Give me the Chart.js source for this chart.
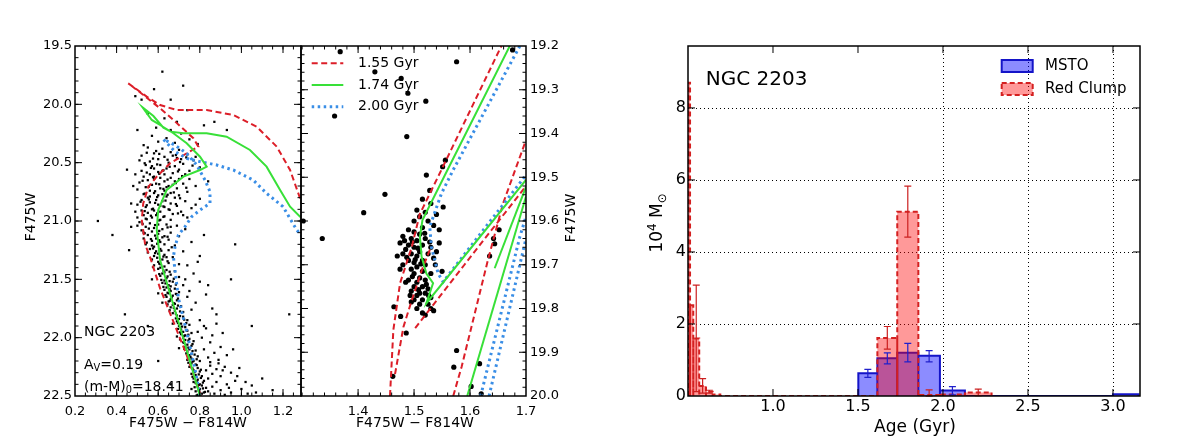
<!DOCTYPE html>
<html>
<head>
<meta charset="utf-8">
<script src="https://cdn.jsdelivr.net/npm/chart.js@4.4.0/dist/chart.umd.min.js"></script>
<style>
  html, body { margin: 0; padding: 0; background: #fff; }
  #wrap { position: relative; width: 1200px; height: 440px; overflow: hidden; }
  canvas { position: absolute; top: 0; }
</style>
</head>
<body>
<div id="wrap">
  <canvas id="cmd" width="320" height="440" style="left:0"></canvas>
  <canvas id="zoom" width="310" height="440" style="left:290px"></canvas>
  <canvas id="hist" width="580" height="440" style="left:620px"></canvas>
</div>
<script>
const FONT = "'DejaVu Sans', sans-serif";
Chart.defaults.font.family = FONT;
Chart.defaults.color = "#000";

// ---- tick labels ----
const cmdColorTicks = [0.2, 0.4, 0.6, 0.8, 1.0, 1.2];
const cmdMagTicks = [19.5, 20.0, 20.5, 21.0, 21.5, 22.0, 22.5];
const zoomColorTicks = [1.4, 1.5, 1.6, 1.7];
const zoomMagTicks = [19.2, 19.3, 19.4, 19.5, 19.6, 19.7, 19.8, 19.9, 20.0];
const ageTicks = [1.0, 1.5, 2.0, 2.5, 3.0];
const massTicks = [0, 2, 4, 6, 8];
const ageGrid = [2.0, 2.5, 3.0];

// ---- CMD stars (F475W-F814W, F475W) ----
const cmdStars = [
  [0.62,19.72],[0.58,19.87],[0.72,19.84],[0.49,19.93],[0.66,19.96],[0.74,20.05],[0.55,20.08],[0.63,20.12],[0.69,20.15],[0.82,20.18],
  [0.59,20.2],[0.66,20.22],[0.71,20.25],[0.57,20.27],[0.64,20.29],[0.75,20.3],[0.6,20.32],[0.68,20.33],[0.53,20.35],[0.93,20.22],
  [0.79,20.34],[0.87,20.15],[0.52,19.96],
  [0.55,20.37],[0.62,20.38],[0.7,20.39],[0.66,20.41],[0.58,20.42],[0.74,20.43],[0.52,20.44],[0.63,20.45],[0.69,20.46],[0.6,20.47],
  [0.77,20.48],[0.56,20.49],[0.65,20.5],[0.72,20.51],[0.54,20.52],[0.61,20.52],[0.68,20.53],[0.8,20.54],[0.58,20.55],[0.64,20.55],
  [0.7,20.56],[0.75,20.57],[0.52,20.57],[0.6,20.58],[0.67,20.59],[0.56,20.6],[0.63,20.6],[0.73,20.6],[0.78,20.45],[0.51,20.48],
  [0.59,20.4],[0.67,20.44],[0.71,20.47],[0.57,20.53],[0.62,20.57],
  [0.53,20.62],[0.58,20.62],[0.61,20.63],[0.66,20.63],[0.7,20.64],[0.75,20.64],[0.55,20.65],[0.63,20.66],[0.68,20.66],[0.51,20.67],
  [0.59,20.68],[0.72,20.68],[0.57,20.69],[0.65,20.7],[0.78,20.7],[0.54,20.71],[0.61,20.72],[0.69,20.72],[0.5,20.73],[0.56,20.74],
  [0.63,20.74],[0.74,20.75],[0.58,20.76],[0.66,20.76],[0.53,20.77],[0.6,20.78],[0.7,20.78],[0.64,20.79],[0.55,20.8],[0.68,20.8],
  [0.8,20.81],[0.52,20.82],[0.59,20.82],[0.62,20.83],[0.73,20.83],[0.56,20.84],[0.66,20.85],[0.5,20.86],[0.6,20.86],[0.69,20.87],
  [0.54,20.88],[0.63,20.88],[0.76,20.89],[0.57,20.9],[0.65,20.9],[0.52,20.91],[0.61,20.92],[0.71,20.92],[0.55,20.93],[0.67,20.94],
  [0.59,20.95],[0.63,20.96],[0.5,20.97],[0.57,20.97],[0.74,20.97],[0.54,20.98],[0.61,20.99],[0.66,20.99],[0.58,20.64],[0.64,20.71],
  [0.56,20.79],[0.61,20.87],[0.53,20.95],[0.67,20.69],[0.62,20.77],[0.58,20.91],[0.72,20.95],[0.84,20.66],[0.47,20.85],[0.49,20.92],
  [0.51,21.01],[0.56,21.02],[0.6,21.03],[0.64,21.03],[0.69,21.04],[0.54,21.05],[0.58,21.06],[0.62,21.07],[0.73,21.07],[0.52,21.08],
  [0.57,21.09],[0.66,21.1],[0.6,21.11],[0.55,21.12],[0.63,21.13],[0.7,21.13],[0.53,21.15],[0.59,21.15],[0.65,21.16],[0.57,21.17],
  [0.61,21.18],[0.76,21.18],[0.54,21.2],[0.63,21.2],[0.68,21.21],[0.58,21.22],[0.56,21.24],[0.61,21.24],[0.65,21.25],[0.72,21.26],
  [0.55,21.27],[0.6,21.28],[0.63,21.29],[0.58,21.3],[0.67,21.31],[0.57,21.33],[0.62,21.33],[0.6,21.35],[0.65,21.36],[0.7,21.37],
  [0.58,21.38],[0.63,21.39],[0.61,21.4],[0.5,21.04],[0.62,21.14],[0.57,21.21],[0.59,21.26],[0.64,21.31],[0.66,21.05],[0.53,21.1],
  [0.61,21.37],[0.8,21.3],[0.74,21.38],
  [0.545,20.415],[0.605,20.425],[0.685,20.435],[0.735,20.455],[0.575,20.465],[0.645,20.475],[0.705,20.495],[0.535,20.505],[0.595,20.515],
  [0.655,20.535],[0.765,20.525],[0.565,20.545],[0.625,20.565],[0.695,20.575],[0.545,20.585],[0.605,20.595],[0.715,20.615],[0.575,20.625],
  [0.645,20.645],[0.525,20.655],[0.685,20.675],[0.605,20.685],[0.555,20.705],[0.735,20.715],[0.625,20.725],[0.585,20.745],[0.675,20.755],
  [0.535,20.765],[0.645,20.775],[0.595,20.795],[0.705,20.805],[0.555,20.815],[0.635,20.825],[0.515,20.835],[0.585,20.845],[0.685,20.855],
  [0.545,20.865],[0.625,20.875],[0.575,20.895],[0.655,20.905],[0.535,20.915],[0.595,20.935],[0.695,20.935],[0.565,20.955],[0.625,20.965],
  [0.545,20.985],[0.605,20.995],[0.525,21.025],[0.585,21.035],[0.645,21.055],[0.555,21.065],[0.605,21.085],[0.535,21.105],[0.585,21.125],
  [0.645,21.135],[0.565,21.155],[0.605,21.165],[0.545,21.185],[0.595,21.195],[0.665,21.225],[0.575,21.235],[0.615,21.255],[0.585,21.275],
  [0.625,21.305],[0.595,21.315],[0.645,21.345],[0.605,21.365],[0.575,21.395],
  [0.6,21.41],[0.64,21.42],[0.68,21.43],[0.62,21.45],[0.66,21.46],[0.61,21.47],[0.7,21.48],[0.64,21.49],[0.63,21.51],[0.67,21.52],
  [0.62,21.53],[0.65,21.55],[0.72,21.55],[0.64,21.57],[0.68,21.58],[0.63,21.59],[0.66,21.6],[0.7,21.61],[0.65,21.62],[0.67,21.64],
  [0.64,21.65],[0.74,21.65],[0.66,21.67],[0.69,21.68],[0.65,21.69],[0.68,21.71],[0.67,21.72],[0.71,21.73],[0.66,21.74],[0.69,21.75],
  [0.68,21.77],[0.72,21.78],[0.67,21.79],[0.77,21.45],[0.8,21.52],[0.75,21.6],[0.83,21.63],[0.78,21.7],[0.86,21.75],[0.57,21.5],
  [0.6,21.62],[0.62,21.7],[0.73,21.5],[0.76,21.76],[0.63,21.44],[0.66,21.56],[0.69,21.63],
  [0.625,21.425],[0.655,21.435],[0.605,21.455],[0.645,21.475],[0.675,21.495],[0.615,21.505],[0.655,21.515],[0.635,21.535],[0.685,21.545],
  [0.625,21.565],[0.655,21.585],[0.645,21.615],[0.685,21.625],[0.635,21.635],[0.665,21.655],[0.695,21.665],[0.655,21.685],[0.675,21.705],
  [0.645,21.715],[0.695,21.725],[0.675,21.745],[0.655,21.765],[0.705,21.775],[0.685,21.795],
  [0.69,21.81],[0.72,21.82],[0.7,21.84],[0.74,21.85],[0.69,21.86],[0.71,21.88],[0.75,21.89],[0.7,21.9],[0.73,21.91],[0.71,21.93],
  [0.74,21.94],[0.72,21.95],[0.76,21.96],[0.71,21.97],[0.73,21.98],[0.72,22.0],[0.75,22.01],[0.73,22.02],[0.77,22.03],[0.72,22.04],
  [0.74,22.06],[0.76,22.07],[0.73,22.08],[0.75,22.1],[0.78,22.11],[0.74,22.12],[0.76,22.14],[0.75,22.15],[0.79,22.16],[0.76,22.18],
  [0.74,22.19],[0.77,22.2],[0.8,21.85],[0.83,21.92],[0.88,21.88],[0.81,22.0],[0.85,22.04],[0.9,22.08],[0.82,22.1],[0.87,22.13],
  [0.93,22.15],[0.84,22.17],[0.89,22.19],[0.8,22.2],[0.67,21.88],[0.69,21.99],[0.7,22.09],[0.79,21.95],[0.86,21.98],
  [0.705,21.815],[0.685,21.835],[0.725,21.845],[0.695,21.875],[0.735,21.875],[0.715,21.905],[0.695,21.925],[0.735,21.935],[0.705,21.955],
  [0.745,21.975],[0.725,21.985],[0.705,22.015],[0.745,22.025],[0.725,22.045],[0.765,22.055],[0.745,22.085],[0.725,22.095],[0.765,22.115],
  [0.735,22.135],[0.775,22.145],[0.755,22.165],[0.785,22.185],[0.765,22.205],
  [0.76,22.22],[0.78,22.23],[0.75,22.25],[0.79,22.26],[0.77,22.28],[0.8,22.29],[0.76,22.31],[0.78,22.32],[0.81,22.33],[0.77,22.35],
  [0.79,22.36],[0.82,22.37],[0.78,22.39],[0.8,22.4],[0.79,22.42],[0.83,22.43],[0.8,22.44],[0.78,22.46],[0.82,22.47],[0.81,22.48],
  [0.79,22.49],[0.84,22.46],[0.85,22.24],[0.88,22.27],[0.92,22.25],[0.86,22.31],[0.9,22.33],[0.95,22.3],[0.84,22.35],[0.88,22.38],
  [0.93,22.4],[0.97,22.37],[0.86,22.42],[0.9,22.45],[0.95,22.47],[1.0,22.44],[0.87,22.48],[0.92,22.49],[1.03,22.48],[0.83,22.28],
  [0.89,22.22],[0.81,22.41],[0.99,22.26],[1.05,22.41],[0.76,22.44],[0.77,22.38],
  [0.745,22.215],[0.785,22.235],[0.765,22.265],[0.805,22.275],[0.775,22.295],[0.795,22.315],[0.765,22.335],[0.805,22.345],[0.785,22.375],
  [0.815,22.385],[0.795,22.405],[0.775,22.425],[0.815,22.435],[0.795,22.455],[0.825,22.465],[0.805,22.485],[0.785,22.495],
  [0.82,21.9],[0.91,21.96],[0.96,22.1],[0.85,22.21],[0.91,22.28],[0.94,22.43],[0.98,22.33],[1.02,22.38],[1.07,22.47],[0.88,21.8],
  [0.84,21.55],[0.79,21.35],[0.82,21.12],[0.48,20.7],[0.47,21.05],[0.46,21.25],[0.49,20.6],
  [0.31,21.0],[0.44,21.8],[0.38,21.12],[0.45,20.56],[0.5,20.22],[0.78,20.86],[0.95,21.5],[1.05,21.9],[1.1,22.35],[0.97,21.2],
  [0.55,21.9],[0.6,22.2],[0.66,22.4],[1.15,22.45],[1.23,21.8],[1.285,21.0]
];

// ---- red clump stars (zoomed panel) ----
const clumpStars = [
  [1.368,19.213],[1.576,19.236],[1.43,19.259],[1.477,19.274],[1.489,19.308],[1.521,19.326],[1.358,19.36],[1.487,19.407],
  [1.556,19.461],[1.522,19.495],[1.448,19.539],[1.41,19.581],[1.336,19.64],[1.302,19.60],[1.552,19.568],[1.528,19.53],
  [1.551,19.476],[1.642,19.64],[1.644,19.652],[1.635,19.68],[1.652,19.62],[1.576,19.896],[1.571,19.934],[1.617,19.926],
  [1.602,19.978],[1.62,19.995],[1.462,19.955],[1.486,19.856],[1.476,19.818],[1.464,19.796],[1.676,19.209],
  [1.515,19.55],[1.53,19.56],[1.505,19.575],[1.52,19.58],[1.54,19.585],[1.51,19.59],[1.5,19.6],[1.525,19.6],[1.535,19.61],
  [1.515,19.615],[1.49,19.62],[1.545,19.62],
  [1.5,19.625],[1.51,19.63],[1.48,19.635],[1.495,19.64],[1.52,19.64],[1.505,19.645],[1.475,19.65],[1.49,19.655],[1.515,19.655],
  [1.53,19.66],[1.5,19.66],[1.485,19.665],[1.51,19.67],[1.48,19.675],[1.495,19.675],[1.525,19.675],[1.505,19.68],[1.47,19.68],
  [1.515,19.69],[1.49,19.69],[1.535,19.685],[1.5,19.695],[1.48,19.7],[1.52,19.7],[1.545,19.65],[1.54,19.67],
  [1.505,19.705],[1.495,19.71],[1.515,19.715],[1.53,19.72],[1.5,19.72],[1.51,19.73],[1.49,19.735],[1.52,19.735],[1.505,19.74],
  [1.5,19.75],[1.515,19.75],[1.525,19.755],[1.495,19.76],[1.51,19.765],[1.52,19.765],[1.505,19.77],[1.53,19.775],[1.5,19.78],
  [1.515,19.78],[1.485,19.74],[1.55,19.715],[1.475,19.71],
  [1.495,19.785],[1.51,19.79],[1.525,19.79],[1.53,19.8],[1.505,19.8],[1.515,19.81],[1.535,19.805],[1.52,19.815],
  [1.497,19.648],[1.507,19.662],[1.487,19.683],[1.512,19.698],[1.497,19.727],[1.508,19.757],[1.522,19.745],[1.502,19.688],
  [1.519,19.628],[1.528,19.648],[1.483,19.645],[1.538,19.7],[1.493,19.77],[1.526,19.77]
];

// ---- isochrones, full CMD ----
const iso155Cmd = [[0.805,22.5],[0.793,22.434],[0.737,22.149],[0.673,21.863],[0.609,21.577],[0.561,21.31],[0.537,21.2],
  [0.521,20.99],[0.528,20.85],[0.553,20.706],[0.593,20.62],[0.657,20.505],[0.737,20.42],[0.793,20.363],[0.769,20.29],
  [0.673,20.134],[0.609,20.034],[0.529,19.92],[0.456,19.82],[0.545,19.934],[0.609,20.006],[0.689,20.049],[0.833,20.049],
  [0.961,20.091],[1.073,20.191],[1.17,20.363],[1.234,20.563],[1.282,20.806],[1.30,20.88]];
const iso174Cmd = [[0.801,22.5],[0.705,21.91],[0.609,21.334],[0.593,21.077],[0.6,20.906],[0.641,20.734],[0.721,20.62],
  [0.801,20.563],[0.833,20.534],[0.801,20.449],[0.737,20.334],[0.673,20.248],[0.609,20.177],[0.569,20.134],[0.525,20.026],
  [0.577,20.10],[0.625,20.2],[0.66,20.234],[0.721,20.248],[0.833,20.248],[0.929,20.277],[1.041,20.391],[1.121,20.534],
  [1.186,20.734],[1.234,20.877],[1.282,20.963],[1.30,20.98]];
const iso200Cmd = [[0.801,22.5],[0.777,22.27],[0.737,21.95],[0.697,21.66],[0.673,21.306],[0.681,21.22],[0.697,21.12],
  [0.729,21.049],[0.761,20.963],[0.801,20.906],[0.849,20.848],[0.849,20.749],[0.825,20.649],[0.785,20.52],[0.737,20.42],
  [0.681,20.35],[0.625,20.3],[0.681,20.406],[0.737,20.463],[0.801,20.491],[0.881,20.52],[0.961,20.563],[1.057,20.649],
  [1.121,20.763],[1.2,20.877],[1.266,21.077],[1.30,21.15]];

// ---- isochrones, red clump zoom (separate pieces) ----
const iso155Zoom = [
  [[1.457,20.0],[1.463,19.849],[1.475,19.742],[1.496,19.659],[1.51,19.585],[1.555,19.467],[1.656,19.2]],
  [[1.466,19.95],[1.481,19.842],[1.496,19.781],[1.514,19.712],[1.53,19.66]],
  [[1.502,19.845],[1.59,19.70],[1.70,19.52]],
  [[1.57,20.0],[1.585,19.933],[1.632,19.689],[1.659,19.56],[1.70,19.415]]
];
const iso174Zoom = [
  [[1.671,19.2],[1.561,19.48],[1.515,19.598],[1.5105,19.636],[1.5135,19.682],[1.522,19.72],[1.534,19.742],[1.522,19.788],[1.70,19.506]],
  [[1.644,19.708],[1.70,19.522]],
  [[1.595,20.0],[1.70,19.544]]
];
const iso200Zoom = [
  [[1.689,19.2],[1.570,19.483],[1.549,19.537],[1.528,19.613],[1.531,19.659],[1.543,19.72],[1.552,19.739],[1.70,19.495]],
  [[1.619,20.0],[1.689,19.636],[1.70,19.59]],
  [[1.634,20.0],[1.70,19.64]]
];

// ---- age histogram (Gyr, 10^4 Msun) ----
const mstoLeft  = [1.502, 1.614, 1.731, 1.855, 1.982, 3.00];
const mstoRight = [1.614, 1.731, 1.855, 1.982, 2.129, 3.15];
const mstoMass  = [0.63, 1.05, 1.20, 1.12, 0.15, 0.05];
const mstoErrLo = [0.52, 0.89, 0.95, 0.95, 0.03, null];
const mstoErrHi = [0.74, 1.20, 1.46, 1.26, 0.26, null];

const rcLeft  = [0.500, 0.512, 0.531, 0.566, 0.606, 0.645, 1.614, 1.731, 1.855, 1.982, 2.129];
const rcRight = [0.512, 0.531, 0.566, 0.606, 0.645, 0.690, 1.731, 1.855, 1.982, 2.129, 2.286];
const rcMass  = [8.70, 2.52, 1.60, 0.28, 0.12, 0.04, 1.61, 5.12, 0.03, 0.04, 0.10];
const rcErrLo = [null, null, 0.12, 0.08, 0.08, null, 1.30, 4.41, 0.00, null, 0.01];
const rcErrHi = [null, null, 3.08, 0.48, 0.16, null, 1.93, 5.83, 0.17, null, 0.19];

// ---- helpers ----
const pts = arr => arr.map(([x, y]) => ({ x, y }));
function steps(a, b, d) {
  const out = [];
  for (let v = a; v <= b + 1e-9; v += d) out.push(+v.toFixed(4));
  return out;
}
function outline(lefts, rights, heights) {
  const out = [];
  lefts.forEach((l, i) => {
    out.push({ x: l, y: 0 }, { x: l, y: heights[i] }, { x: rights[i], y: heights[i] }, { x: rights[i], y: 0 });
  });
  return out;
}

const RED = { borderColor: "#dc1e28", borderWidth: 2, borderDash: [6, 3.5] };
const GREEN = { borderColor: "#38e038", borderWidth: 2, borderDash: [] };
const BLUE = { borderColor: "#3a8ee6", borderWidth: 3, borderDash: [2.5, 3.5] };

function lineSet(label, arr, style, order) {
  return Object.assign({ label, data: pts(arr), pointRadius: 0, fill: false, tension: 0, order }, style);
}
function starSet(arr, style, radius) {
  return { label: "stars", data: pts(arr), showLine: false, pointStyle: style, pointRadius: radius,
    pointBorderWidth: 0, pointBackgroundColor: "#000", borderColor: "#000", order: 10 };
}

function xAxis(min, max, ticks, pad, size) {
  return {
    type: "linear", min, max,
    grid: { display: false, drawTicks: false },
    border: { display: false },
    afterBuildTicks: s => { s.ticks = ticks.map(v => ({ value: v })); },
    afterFit: s => { s.height = 44; },
    ticks: { padding: pad, font: { size }, color: "#000", maxRotation: 0, autoSkip: false,
      callback: v => v.toFixed(1) }
  };
}
function yAxis(min, max, ticks, pad, size, width, position, reverse, digits) {
  return {
    type: "linear", min, max, position, reverse,
    grid: { display: false, drawTicks: false },
    border: { display: false },
    afterBuildTicks: s => { s.ticks = ticks.map(v => ({ value: v })); },
    afterFit: s => { s.width = width; },
    ticks: { padding: pad, font: { size }, color: "#000", autoSkip: false,
      callback: v => v.toFixed(digits) }
  };
}

function drawRich(ctx, parts, x, y, size, align, rot) {
  ctx.save();
  ctx.translate(x, y);
  ctx.rotate(rot || 0);
  ctx.textBaseline = "middle";
  ctx.textAlign = "left";
  ctx.fillStyle = "#000";
  const fontOf = k => (k ? size * 0.7 : size) + "px " + FONT;
  let w = 0;
  parts.forEach(([t, k]) => { ctx.font = fontOf(k); w += ctx.measureText(t).width; });
  let cx = align === "center" ? -w / 2 : align === "right" ? -w : 0;
  parts.forEach(([t, k]) => {
    ctx.font = fontOf(k);
    const dy = k === "sub" ? size * 0.28 : k === "sup" ? -size * 0.32 : 0;
    ctx.fillText(t, cx, dy);
    cx += ctx.measureText(t).width;
  });
  ctx.restore();
}

// frame, inward ticks and dotted grid, matplotlib style
const framePlugin = {
  id: "frame",
  beforeDatasetsDraw(chart, args, o) {
    if (!o.gridX && !o.gridY) return;
    const { ctx, chartArea: a, scales: { x, y } } = chart;
    ctx.save();
    ctx.strokeStyle = "#000";
    ctx.lineWidth = 1;
    ctx.setLineDash([1, 3]);
    ctx.beginPath();
    (o.gridX || []).forEach(v => {
      const p = Math.round(x.getPixelForValue(v)) + 0.5;
      ctx.moveTo(p, a.top); ctx.lineTo(p, a.bottom);
    });
    (o.gridY || []).forEach(v => {
      const p = Math.round(y.getPixelForValue(v)) + 0.5;
      ctx.moveTo(a.left, p); ctx.lineTo(a.right, p);
    });
    ctx.stroke();
    ctx.restore();
  },
  afterDatasetsDraw(chart, args, o) {
    const { ctx, chartArea: a, scales: { x, y } } = chart;
    ctx.save();
    ctx.strokeStyle = "#000";
    ctx.lineWidth = 1;
    ctx.beginPath();
    const marks = (vals, len, horiz) => (vals || []).forEach(v => {
      if (horiz) {
        const p = x.getPixelForValue(v);
        if (p < a.left + 1 || p > a.right - 1) return;
        ctx.moveTo(p, a.bottom); ctx.lineTo(p, a.bottom - len);
        ctx.moveTo(p, a.top); ctx.lineTo(p, a.top + len);
      } else {
        const p = y.getPixelForValue(v);
        if (p < a.top + 1 || p > a.bottom - 1) return;
        ctx.moveTo(a.left, p); ctx.lineTo(a.left + len, p);
        ctx.moveTo(a.right, p); ctx.lineTo(a.right - len, p);
      }
    });
    marks(o.xMajor, 7, true);
    marks(o.xMinor, 3.5, true);
    marks(o.yMajor, 7, false);
    marks(o.yMinor, 3.5, false);
    ctx.stroke();
    ctx.lineWidth = 1.5;
    ctx.strokeRect(a.left, a.top, a.right - a.left, a.bottom - a.top);
    ctx.restore();
  }
};

const notePlugin = {
  id: "notes",
  afterDraw(chart, args, o) {
    (o.items || []).forEach(it => drawRich(chart.ctx, it.parts, it.x, it.y, it.size, it.align || "left", it.rot || 0));
  }
};

const keyPlugin = {
  id: "key",
  afterDraw(chart, args, o) {
    if (!o.entries) return;
    const ctx = chart.ctx;
    ctx.save();
    o.entries.forEach((idx, i) => {
      const ds = chart.data.datasets[idx];
      const y = o.y + i * o.dy;
      ctx.setLineDash(ds.borderDash || []);
      ctx.strokeStyle = ds.borderColor;
      ctx.lineWidth = ds.borderWidth;
      if (o.kind === "line") {
        ctx.beginPath(); ctx.moveTo(o.x, y); ctx.lineTo(o.x + o.w, y); ctx.stroke();
      } else {
        ctx.fillStyle = ds.backgroundColor;
        ctx.fillRect(o.x, y - o.h / 2, o.w, o.h);
        ctx.strokeRect(o.x, y - o.h / 2, o.w, o.h);
      }
      ctx.setLineDash([]);
      ctx.fillStyle = "#000";
      ctx.font = o.size + "px " + FONT;
      ctx.textBaseline = "middle";
      ctx.textAlign = "left";
      ctx.fillText(ds.label, o.textX, y);
    });
    ctx.restore();
  }
};

const errPlugin = {
  id: "errs",
  afterDatasetsDraw(chart, args, o) {
    const { ctx, scales: { x, y } } = chart;
    ctx.save();
    (o.sets || []).forEach(s => {
      ctx.strokeStyle = s.color;
      ctx.lineWidth = 1.2;
      ctx.beginPath();
      s.lefts.forEach((l, i) => {
        if (s.hi[i] == null) return;
        const px = x.getPixelForValue((l + s.rights[i]) / 2);
        const top = y.getPixelForValue(s.hi[i]);
        const bot = y.getPixelForValue(s.lo[i]);
        ctx.moveTo(px, top); ctx.lineTo(px, bot);
        ctx.moveTo(px - 3.5, top); ctx.lineTo(px + 3.5, top);
        ctx.moveTo(px - 3.5, bot); ctx.lineTo(px + 3.5, bot);
      });
      ctx.stroke();
    });
    ctx.restore();
  }
};

const base = {
  responsive: false,
  animation: false,
  events: [],
  plugins: { legend: { display: false }, tooltip: { enabled: false } }
};
const allPlugins = [errPlugin, framePlugin, notePlugin, keyPlugin];

// ---- panel 1: full CMD ----
new Chart(document.getElementById("cmd"), {
  type: "line",
  data: {
    datasets: [
      starSet(cmdStars, "rect", 1.6),
      lineSet("1.55 Gyr", iso155Cmd, RED, 3),
      lineSet("2.00 Gyr", iso200Cmd, BLUE, 2),
      lineSet("1.74 Gyr", iso174Cmd, GREEN, 1)
    ]
  },
  options: Object.assign({}, base, {
    layout: { padding: { top: 46, right: 19, left: 0, bottom: 0 } },
    scales: {
      x: xAxis(0.2, 1.2865, cmdColorTicks, 7.5, 13),
      y: yAxis(19.5, 22.5, cmdMagTicks, 3, 13, 75, "left", true, 1)
    },
    plugins: Object.assign({}, base.plugins, {
      frame: { xMajor: cmdColorTicks, xMinor: steps(0.25, 1.25, 0.05), yMajor: cmdMagTicks, yMinor: steps(19.6, 22.4, 0.1) },
      notes: { items: [
        { parts: [["NGC 2203", ""]], x: 84, y: 332, size: 14 },
        { parts: [["A", ""], ["V", "sub"], ["=0.19", ""]], x: 84, y: 365, size: 14 },
        { parts: [["(m-M)", ""], ["0", "sub"], ["=18.41", ""]], x: 84, y: 387, size: 14 },
        { parts: [["F475W", ""]], x: 31.7, y: 217, size: 14, align: "center", rot: -Math.PI / 2 },
        { parts: [["F475W \u2212 F814W", ""]], x: 188, y: 423, size: 14, align: "center" }
      ] }
    })
  }),
  plugins: allPlugins
});

// ---- panel 2: red clump zoom ----
const zoomSets = [];
iso155Zoom.forEach(seg => zoomSets.push(lineSet("1.55 Gyr", seg, RED, 3)));
iso174Zoom.forEach(seg => zoomSets.push(lineSet("1.74 Gyr", seg, GREEN, 1)));
iso200Zoom.forEach(seg => zoomSets.push(lineSet("2.00 Gyr", seg, BLUE, 2)));
zoomSets.push(starSet(clumpStars, "circle", 2.6));

new Chart(document.getElementById("zoom"), {
  type: "line",
  data: { datasets: zoomSets },
  options: Object.assign({}, base, {
    layout: { padding: { top: 46, right: 0, left: 11, bottom: 0 } },
    scales: {
      x: xAxis(1.298, 1.70, zoomColorTicks, 7.5, 13),
      y: yAxis(19.2, 20.0, zoomMagTicks, 4, 13, 74, "right", true, 1)
    },
    plugins: Object.assign({}, base.plugins, {
      frame: { xMajor: zoomColorTicks, xMinor: steps(1.30, 1.70, 0.02), yMajor: zoomMagTicks, yMinor: steps(19.2, 20.0, 0.02) },
      key: { kind: "line", entries: [0, iso155Zoom.length, iso155Zoom.length + iso174Zoom.length],
        x: 21.7, w: 31.6, y: 63.3, dy: 21.7, textX: 68, size: 14 },
      notes: { items: [
        { parts: [["F475W \u2212 F814W", ""]], x: 125, y: 423, size: 14, align: "center" },
        { parts: [["F475W", ""]], x: 281.7, y: 218, size: 14, align: "center", rot: -Math.PI / 2 }
      ] }
    })
  }),
  plugins: allPlugins
});

// ---- panel 3: age histogram ----
new Chart(document.getElementById("hist"), {
  type: "line",
  data: {
    datasets: [
      { label: "MSTO", data: outline(mstoLeft, mstoRight, mstoMass), fill: "origin",
        backgroundColor: "rgba(0, 0, 255, 0.45)", borderColor: "#1414c8", borderWidth: 2, borderDash: [],
        pointRadius: 0, tension: 0, order: 2 },
      { label: "Red Clump", data: outline(rcLeft, rcRight, rcMass), fill: "origin",
        backgroundColor: "rgba(255, 0, 0, 0.4)", borderColor: "#d42020", borderWidth: 2, borderDash: [5, 3],
        pointRadius: 0, tension: 0, order: 1 }
    ]
  },
  options: Object.assign({}, base, {
    layout: { padding: { top: 46, right: 60, left: 0, bottom: 0 } },
    scales: {
      x: xAxis(0.5, 3.159, ageTicks, 1.5, 16),
      y: yAxis(0, 9.72, massTicks, 2, 16, 68, "left", false, 0)
    },
    plugins: Object.assign({}, base.plugins, {
      frame: { xMajor: ageTicks, yMajor: massTicks, gridX: ageGrid, gridY: massTicks.slice(1) },
      errs: { sets: [
        { lefts: mstoLeft, rights: mstoRight, lo: mstoErrLo, hi: mstoErrHi, color: "#2020cc" },
        { lefts: rcLeft, rights: rcRight, lo: rcErrLo, hi: rcErrHi, color: "#cc2020" }
      ] },
      key: { kind: "box", entries: [0, 1], x: 381.7, w: 31, h: 12, y: 66, dy: 23, textX: 425, size: 15 },
      notes: { items: [
        { parts: [["NGC 2203", ""]], x: 85.7, y: 80, size: 20 },
        { parts: [["Age (Gyr)", ""]], x: 295, y: 428, size: 17, align: "center" },
        { parts: [["10", ""], ["4", "sup"], [" M", ""], ["\u2299", "sub"]], x: 38, y: 223, size: 17, align: "center", rot: -Math.PI / 2 }
      ] }
    })
  }),
  plugins: allPlugins
});
</script>
</body>
</html>
